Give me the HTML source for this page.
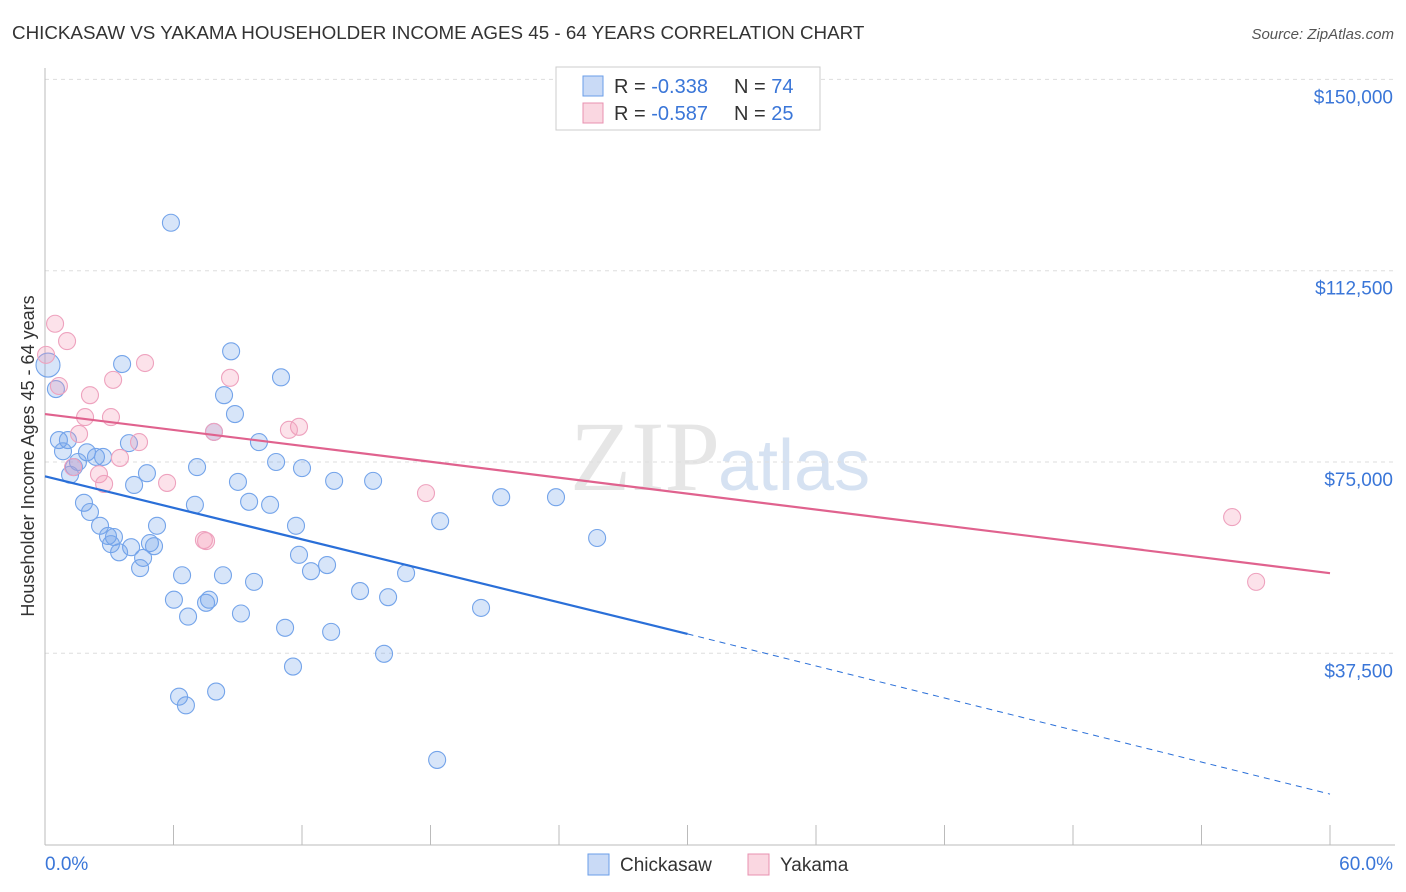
<!DOCTYPE html>
<html><head><meta charset="utf-8"><style>
body{margin:0;background:#fff;font-family:"Liberation Sans",sans-serif;}
svg{display:block}
</style></head><body>
<svg id="chart" width="1406" height="892">
<text x="12" y="39" font-size="18.8" fill="#333">CHICKASAW VS YAKAMA HOUSEHOLDER INCOME AGES 45 - 64 YEARS CORRELATION CHART</text>
<text x="1394" y="39" font-size="15" fill="#555" font-style="italic" text-anchor="end">Source: ZipAtlas.com</text>
<text x="720" y="490" font-size="100" fill="#e6e6e6" font-family="Liberation Serif,serif" text-anchor="end">ZIP</text>
<text x="718" y="490" font-size="72" fill="#d6e2f2">atlas</text>
<g id="grid"></g>
<g id="axes"></g>
<g id="pts"></g>
<g id="trends"></g>
<text transform="translate(34,456) rotate(-90)" font-size="18" fill="#333" text-anchor="middle">Householder Income Ages 45 - 64 years</text>
<g>
<rect x="556" y="67" width="264" height="63" fill="#fff" stroke="#ccc"/>
<rect x="583" y="76" width="20" height="20" fill="rgba(100,150,230,0.35)" stroke="#6a9ee8"/>
<text x="614" y="93" font-size="20" fill="#333">R = <tspan fill="#3a76d8">-0.338</tspan></text>
<text x="734" y="93" font-size="20" fill="#333">N = <tspan fill="#3a76d8">74</tspan></text>
<rect x="583" y="103" width="20" height="20" fill="rgba(240,140,170,0.35)" stroke="#e890b0"/>
<text x="614" y="120" font-size="20" fill="#333">R = <tspan fill="#3a76d8">-0.587</tspan></text>
<text x="734" y="120" font-size="20" fill="#333">N = <tspan fill="#3a76d8">25</tspan></text>
</g>
<g>
<rect x="588" y="854" width="21" height="21" fill="rgba(100,150,230,0.35)" stroke="#6a9ee8"/>
<text x="620" y="871" font-size="19" fill="#333">Chickasaw</text>
<rect x="748" y="854" width="21" height="21" fill="rgba(240,140,170,0.35)" stroke="#e890b0"/>
<text x="780" y="871" font-size="19" fill="#333">Yakama</text>
</g>
</svg>
<script>
const blueX=[5.88,0.14,0.51,3.60,8.69,11.02,8.36,8.87,0.65,1.07,0.84,1.96,2.38,2.71,3.92,1.54,1.35,1.17,9.99,7.89,10.79,12.00,7.10,4.76,4.16,9.01,13.50,15.32,1.82,2.10,7.00,9.53,10.51,21.30,23.86,18.45,2.57,5.23,11.72,25.78,2.94,3.22,3.08,4.02,4.90,5.09,3.46,4.58,4.44,11.86,13.17,12.42,16.86,6.40,8.31,9.76,14.71,6.02,7.66,7.52,16.02,20.36,6.68,9.15,11.21,13.36,15.83,11.58,6.26,7.99,6.58,18.31];
const blueY=[121.9,94.0,89.3,94.2,96.7,91.6,88.1,84.4,79.3,79.3,77.1,76.9,76.0,76.0,78.7,75.0,74.0,72.5,78.9,80.9,75.0,73.8,74.0,72.8,70.5,71.1,71.3,71.3,67.0,65.2,66.6,67.2,66.6,68.1,68.1,63.4,62.5,62.5,62.5,60.1,60.5,60.3,58.9,58.3,59.1,58.5,57.3,56.2,54.2,56.8,54.8,53.6,53.2,52.8,52.8,51.5,49.7,48.0,48.0,47.4,48.5,46.4,44.7,45.3,42.5,41.7,37.4,34.9,29.0,30.0,27.3,16.6];
const pinkX=[0.47,1.03,0.05,4.67,0.65,3.18,2.10,8.64,1.87,3.08,11.86,11.39,7.89,1.59,4.39,3.50,1.31,2.52,2.76,5.70,17.79,7.42,7.52,55.43,56.55];
const pinkY=[102.1,98.7,96.0,94.4,89.9,91.1,88.1,91.5,83.8,83.8,81.9,81.3,80.9,80.5,78.9,75.8,74.0,72.6,70.7,70.9,68.9,59.7,59.5,64.2,51.5];
const yTicks=[37500,75000,112500,150000];
const yTickLabels=["$37,500","$75,000","$112,500","$150,000"];
const blueTrend=[72.2,41.3,9.9];
const pinkTrend=[84.4,53.2];
const NS="http://www.w3.org/2000/svg";
const X=v=>45+v/60*1285;
const Y=v=>844.6-v/37.5*191.3;
function mk(t,a,p){const e=document.createElementNS(NS,t);for(const k in a)e.setAttribute(k,a[k]);p.appendChild(e);return e;}
const grid=document.getElementById('grid'),axes=document.getElementById('axes');
yTicks.forEach((t,i)=>{
 const l=mk('line',{x1:45,x2:1395,y1:Y(t/1000),y2:Y(t/1000),stroke:'#ddd','stroke-dasharray':'4,4'},grid);
 
 
 const tx=mk('text',{x:1393,y:Y(t/1000)+24,'font-size':19,fill:'#3a76d8','text-anchor':'end'},axes);
 tx.textContent=yTickLabels[i];
 
 
});
mk('line',{x1:45,x2:45,y1:68,y2:845,stroke:'#bbb'},axes);
mk('line',{x1:45,x2:1395,y1:845,y2:845,stroke:'#bbb'},axes);
for(let i=0;i<=10;i++){const t=mk('line',{x1:X(i*6),x2:X(i*6),y1:825,y2:845,stroke:'#bbb'},axes);
 
 }
let a=mk('text',{x:45,y:870,'font-size':19,fill:'#3a76d8'},axes);a.textContent='0.0%';


a=mk('text',{x:1393,y:870,'font-size':19,fill:'#3a76d8','text-anchor':'end'},axes);a.textContent='60.0%';


const pts=document.getElementById('pts');
blueX.forEach((x,i)=>{const c=mk('circle',{cx:X(x),cy:Y(blueY[i]),r:i==1?12:8.5,fill:'rgba(110,160,235,0.28)',stroke:'#74a4ea','stroke-width':1.1},pts);
 
 });
pinkX.forEach((x,i)=>{const c=mk('circle',{cx:X(x),cy:Y(pinkY[i]),r:8.5,fill:'rgba(245,150,180,0.28)',stroke:'#eea2be','stroke-width':1.1},pts);
 
 });
const tr=document.getElementById('trends');
let l=mk('line',{x1:X(0),y1:Y(blueTrend[0]),x2:X(30),y2:Y(blueTrend[1]),stroke:'#2a6fd8','stroke-width':2.2},tr);


l=mk('line',{x1:X(30),y1:Y(blueTrend[1]),x2:X(60),y2:Y(blueTrend[2]),stroke:'#2a6fd8','stroke-width':1,'stroke-dasharray':'6,5'},tr);


l=mk('line',{x1:X(0),y1:Y(pinkTrend[0]),x2:X(60),y2:Y(pinkTrend[1]),stroke:'#e0628e','stroke-width':2.2},tr);


</script>
</body></html>
